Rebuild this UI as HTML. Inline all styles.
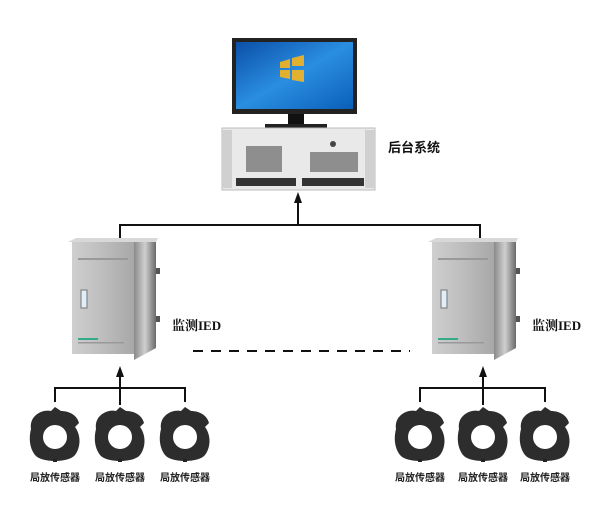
<!DOCTYPE html>
<html><head><meta charset="utf-8"><style>
body{margin:0;background:#fff;width:600px;height:515px;overflow:hidden;font-family:"Liberation Sans","Noto Sans CJK SC",sans-serif}
</style></head><body>
<svg width="600" height="515" viewBox="0 0 600 515" xmlns="http://www.w3.org/2000/svg">
<defs>
<linearGradient id="scr" x1="0" y1="0" x2="1" y2="1"><stop offset="0" stop-color="#0b4fa8"/><stop offset="0.5" stop-color="#2a8ee0"/><stop offset="1" stop-color="#0a5fb8"/></linearGradient>
<linearGradient id="cab" x1="0" y1="0" x2="1" y2="0"><stop offset="0" stop-color="#cfcfcf"/><stop offset="0.5" stop-color="#bdbdbd"/><stop offset="1" stop-color="#a8a8a8"/></linearGradient>
<linearGradient id="side" x1="0" y1="0" x2="1" y2="0"><stop offset="0" stop-color="#8a8a8a"/><stop offset="0.5" stop-color="#cfcfcf"/><stop offset="1" stop-color="#6a6a6a"/></linearGradient>
<g id="sensor">
<path d="M-24,-8 C-26,-22 -12,-28 -4,-26 L0,-30 L6,-26 C14,-26 22,-22 24,-14 L20,-10 C26,-2 26,10 20,18 C14,26 -14,26 -20,18 C-26,10 -26,0 -24,-8Z" fill="#2d2d2d"/>
<circle cx="0" cy="0" r="12" fill="#fff"/>
<rect x="-2" y="22" width="4" height="3" fill="#222"/>
</g>
<g id="box">
<polygon points="0,4 8,0 90,0 88,4" fill="#d8d8d8"/>
<rect x="4" y="4" width="62" height="112" fill="url(#cab)"/>
<polygon points="66,4 88,4 88,110 66,122" fill="url(#side)"/>
<rect x="88" y="30" width="4" height="6" fill="#555"/><rect x="88" y="78" width="4" height="6" fill="#555"/>
<rect x="13" y="52" width="6" height="18" fill="#dfeef7" stroke="#777"/>
<rect x="10" y="20" width="50" height="2" fill="#999"/>
<rect x="10" y="100" width="20" height="2" fill="#3a8"/>
<rect x="10" y="104" width="46" height="1.5" fill="#999"/>
</g>
</defs>
<rect x="232" y="38" width="125" height="76" fill="#222"/>
<rect x="236" y="42" width="117" height="67" fill="url(#scr)"/>
<path d="M280,62 l10,-3 v9 h-10z M292,58 l12,-3 v11 h-12z M280,70 h10 v9 l-10,-2z M292,70 h12 v12 l-12,-2z" fill="#f6b51e" opacity=".9"/>
<rect x="288" y="114" width="16" height="11" fill="#111"/>
<rect x="265" y="124" width="62" height="4" fill="#222"/>
<rect x="222" y="128" width="153" height="62" fill="#e9e9e9" stroke="#bbb"/>
<rect x="222" y="130" width="10" height="58" fill="#d0d0d0"/><rect x="365" y="130" width="10" height="58" fill="#d0d0d0"/>
<rect x="246" y="146" width="36" height="26" fill="#666" opacity=".7"/>
<rect x="310" y="152" width="48" height="20" fill="#666" opacity=".7"/>
<rect x="236" y="178" width="60" height="8" fill="#333"/><rect x="302" y="178" width="62" height="8" fill="#333"/>
<circle cx="333" cy="144" r="3" fill="#444"/>
<text x="388" y="152" font-size="13" font-weight="bold" fill="#111">后台系统</text>
<g stroke="#111" stroke-width="2" fill="none">
<line x1="298" y1="225" x2="298" y2="200"/>
<polyline points="120,241 120,225 480,225 480,241"/>
<line x1="120" y1="405" x2="120" y2="374"/>
<polyline points="55,402 55,388 185,388 185,402"/>
<line x1="483" y1="405" x2="483" y2="374"/>
<polyline points="420,402 420,388 545,388 545,402"/>
<line x1="193" y1="351" x2="410" y2="351" stroke-dasharray="10,8"/>
</g>
<g fill="#111">
<polygon points="298,192 294,203 302,203"/>
<polygon points="120,366 116,377 124,377"/>
<polygon points="483,366 479,377 487,377"/>
</g>
<use href="#box" x="68" y="238"/>
<use href="#box" x="428" y="238"/>
<text x="172" y="330" font-size="13" font-weight="bold" fill="#111" font-family="Liberation Serif, Noto Serif CJK SC, serif">监测IED</text>
<text x="532" y="330" font-size="13" font-weight="bold" fill="#111" font-family="Liberation Serif, Noto Serif CJK SC, serif">监测IED</text>
<use href="#sensor" x="55" y="437"/><use href="#sensor" x="120" y="437"/><use href="#sensor" x="185" y="437"/>
<use href="#sensor" x="420" y="437"/><use href="#sensor" x="483" y="437"/><use href="#sensor" x="545" y="437"/>
<g font-size="10" fill="#222" text-anchor="middle" font-weight="bold">
<text x="55" y="481">局放传感器</text><text x="120" y="481">局放传感器</text><text x="185" y="481">局放传感器</text>
<text x="420" y="481">局放传感器</text><text x="483" y="481">局放传感器</text><text x="545" y="481">局放传感器</text>
</g>
</svg>
</body></html>
